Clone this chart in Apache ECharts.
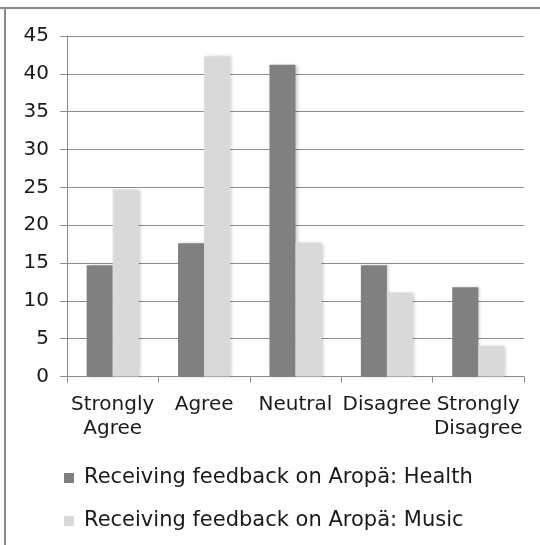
<!DOCTYPE html>
<html>
<head>
<meta charset="utf-8">
<script src="https://cdn.jsdelivr.net/npm/echarts@6/dist/echarts.min.js"></script>
<style>
  html, body { margin: 0; padding: 0; background: #fff; }
  #chart { width: 540px; height: 545px; }
</style>
</head>
<body>
<div id="chart"></div>
<script>
// Survey response categories (x axis)
const categories = ['Strongly\nAgree', 'Agree', 'Neutral', 'Disagree', 'Strongly\nDisagree'];
// Percentage of respondents per response
const healthValues = [14.7, 17.6, 41.2, 14.7, 11.8];
const musicValues = [24.7, 42.3, 17.7, 11.1, 4.0];
const seriesNames = ['Receiving feedback on Aropä: Health', 'Receiving feedback on Aropä: Music'];
// Value axis scale
const yMin = 0, yMax = 45, yStep = 5;

const FONT = 'DejaVu Sans';
const chart = echarts.init(document.getElementById('chart'), null, { renderer: 'canvas' });

const barShadow = {
  shadowColor: 'rgba(0,0,0,0.18)',
  shadowBlur: 3,
  shadowOffsetX: 2,
  shadowOffsetY: 0
};

chart.setOption({
  animation: false,
  backgroundColor: '#ffffff',
  textStyle: { fontFamily: FONT },
  graphic: [
    // chart frame (top and left edges)
    { type: 'line', shape: { x1: 0, y1: 8, x2: 540, y2: 8 }, style: { stroke: '#8a8a8a', lineWidth: 2 }, silent: true },
    { type: 'line', shape: { x1: 5, y1: 8, x2: 5, y2: 545 }, style: { stroke: '#8a8a8a', lineWidth: 2 }, silent: true }
  ],
  grid: { left: 67, right: 16, top: 36, bottom: 168.5, containLabel: false },
  legend: {
    orient: 'vertical',
    left: 64,
    top: 466,
    padding: 0,
    itemWidth: 10,
    itemHeight: 10,
    itemGap: 19,
    icon: 'rect',
    textStyle: { fontFamily: FONT, fontSize: 21, color: '#1a1a1a', lineHeight: 24, padding: [0, 0, 0, 5] },
    data: seriesNames
  },
  xAxis: {
    type: 'category',
    data: categories,
    axisLine: { lineStyle: { color: '#8c8c8c', width: 1 } },
    axisTick: { show: true, length: 6, inside: false, lineStyle: { color: '#8c8c8c' } },
    axisLabel: {
      interval: 0,
      margin: 16,
      fontFamily: FONT,
      fontSize: 20,
      lineHeight: 24,
      color: '#1a1a1a'
    },
    splitLine: { show: false }
  },
  yAxis: {
    type: 'value',
    min: yMin,
    max: yMax,
    interval: yStep,
    axisLine: { show: true, lineStyle: { color: '#8c8c8c', width: 1 } },
    axisTick: { show: true, length: 7, lineStyle: { color: '#8c8c8c' } },
    axisLabel: { margin: 18, fontFamily: FONT, fontSize: 20, color: '#1a1a1a' },
    splitLine: { show: true, lineStyle: { color: '#8c8c8c', width: 1 } }
  },
  series: [
    {
      name: seriesNames[0],
      type: 'bar',
      data: healthValues,
      barGap: '0%',
      barCategoryGap: '43%',
      itemStyle: Object.assign({ color: '#808080' }, barShadow)
    },
    {
      name: seriesNames[1],
      type: 'bar',
      data: musicValues,
      barGap: '0%',
      barCategoryGap: '43%',
      itemStyle: Object.assign({ color: '#d9d9d9' }, barShadow)
    }
  ]
});
</script>
</body>
</html>
